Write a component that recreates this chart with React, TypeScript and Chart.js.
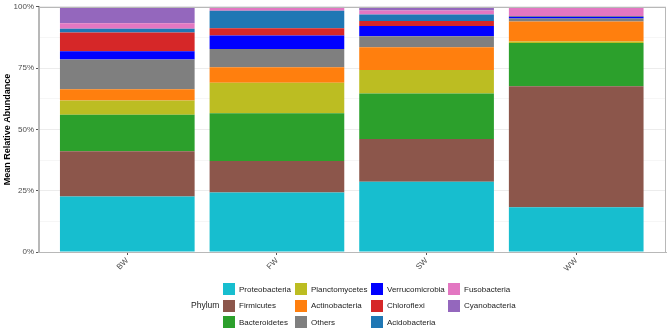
import React, { useEffect, useRef } from "react";
import { Chart, registerables } from "chart.js";

Chart.register(...registerables);

const categories = ["BW", "FW", "SW", "WW"];
const phyla = [
  "Proteobacteria",
  "Firmicutes",
  "Bacteroidetes",
  "Planctomycetes",
  "Actinobacteria",
  "Others",
  "Verrucomicrobia",
  "Chloroflexi",
  "Acidobacteria",
  "Fusobacteria",
  "Cyanobacteria",
];
const colors = [
  "#17BECF",
  "#8C564B",
  "#2CA02C",
  "#BCBD22",
  "#FF7F0E",
  "#7F7F7F",
  "#0000FF",
  "#D62728",
  "#1F77B4",
  "#E377C2",
  "#9467BD",
];
const proteobacteria = [22.6, 24.3, 28.6, 18.3];
const firmicutes = [18.5, 12.8, 17.5, 49.3];
const bacteroidetes = [14.9, 19.5, 18.5, 17.6];
const planctomycetes = [5.8, 12.4, 9.6, 0.6];
const actinobacteria = [4.6, 6.3, 9.3, 8.2];
const others = [12.1, 7.5, 4.5, 1.2];
const verrucomicrobia = [3.4, 5.5, 4.2, 0.6];
const chloroflexi = [7.6, 3.0, 2.0, 0.1];
const acidobacteria = [1.5, 7.1, 2.7, 0.3];
const fusobacteria = [2.3, 1.3, 1.6, 3.3];
const cyanobacteria = [6.7, 0.3, 1.5, 0.3];
const seriesValues = [
  proteobacteria,
  firmicutes,
  bacteroidetes,
  planctomycetes,
  actinobacteria,
  others,
  verrucomicrobia,
  chloroflexi,
  acidobacteria,
  fusobacteria,
  cyanobacteria,
];
const yTicks = [0, 25, 50, 75, 100];

// legend column-major order (3 rows)
const legendColumns = [
  [0, 1, 2],
  [3, 4, 5],
  [6, 7, 8],
  [9, 10],
];
const legendColX = [223, 295, 371, 448];

const FONT = "'Liberation Sans', Arial, Helvetica, sans-serif";

export default function App() {
  const ref = useRef<HTMLCanvasElement | null>(null);

  useEffect(() => {
    const canvas = ref.current;
    if (!canvas) return;
    const borderPlugin = {
      id: "panelBorder",
      afterDraw(chart: any) {
        const { ctx, chartArea } = chart;
        ctx.save();
        ctx.strokeStyle = "#b8b8b8";
        ctx.lineWidth = 1;
        ctx.strokeRect(
          Math.round(chartArea.left) - 0.5,
          Math.round(chartArea.top) + 0.5,
          Math.round(chartArea.right - chartArea.left),
          Math.round(chartArea.bottom - chartArea.top)
        );
        ctx.restore();
      },
    };
    const chart = new Chart(canvas, {
      type: "bar",
      data: {
        datasets: phyla.map((name, i) => ({
          label: name,
          data: seriesValues[i].map((v, j) => ({ x: j, y: v })),
          backgroundColor: colors[i],
          borderWidth: 0,
          barPercentage: 0.9,
          categoryPercentage: 1,
        })),
      },
      options: {
        animation: false,
        responsive: false,
        maintainAspectRatio: false,
        layout: { padding: { top: 4, right: 3, left: 0, bottom: 0 } },
        plugins: { legend: { display: false }, tooltip: { enabled: false } },
        scales: {
          x: {
            type: "linear",
            stacked: true,
            offset: false,
            min: -0.59,
            max: 3.6,
            afterBuildTicks(scale: any) {
              scale.ticks = categories.map((_, i) => ({ value: i }));
            },
            afterFit(scale: any) {
              scale.height = 80;
            },
            ticks: {
              autoSkip: false,
              minRotation: 45,
              maxRotation: 45,
              padding: 1,
              color: "#4d4d4d",
              font: { family: FONT, size: 8 },
              callback: (v: any) => categories[Math.round(v)] ?? "",
            },
            grid: {
              offset: false,
              drawOnChartArea: false,
              drawTicks: true,
              tickLength: 3,
              tickColor: "#555",
            },
            border: { display: true, color: "#b8b8b8" },
          },
          y: {
            stacked: true,
            min: 0,
            max: 100,
            afterBuildTicks(scale: any) {
              const t: any[] = [];
              for (let v = 0; v <= 100; v += 12.5) t.push({ value: v });
              scale.ticks = t;
            },
            afterFit(scale: any) {
              scale.width = 39;
            },
            ticks: {
              padding: 2,
              color: "#4d4d4d",
              font: { family: FONT, size: 8 },
              callback: (v: any) => (yTicks.includes(v) ? v + "%" : ""),
            },
            grid: {
              color: (ctx: any) =>
                ctx.tick && yTicks.includes(ctx.tick.value) ? "#ececec" : "#f6f6f6",
              tickColor: (ctx: any) =>
                ctx.tick && yTicks.includes(ctx.tick.value) ? "#555" : "rgba(0,0,0,0)",
              tickLength: 3,
            },
            border: { display: true, color: "#b8b8b8" },
            title: {
              display: true,
              text: "Mean Relative Abundance",
              color: "#000",
              padding: { top: 2, bottom: 2 },
              font: { family: FONT, size: 9, weight: "bold" },
            },
          },
        },
      },
      plugins: [borderPlugin],
    } as any);
    return () => chart.destroy();
  }, []);

  return (
    <div
      style={{
        position: "fixed",
        left: 0,
        top: 0,
        width: 669,
        height: 332,
        background: "#fff",
        fontFamily: FONT,
      }}
    >
      <canvas ref={ref} width={669} height={332} style={{ display: "block" }} />
      <div
        style={{
          position: "absolute",
          left: 191,
          top: 299,
          fontSize: 8.5,
          lineHeight: "12px",
          color: "#222",
        }}
      >
        Phylum
      </div>
      {legendColumns.map((col, ci) =>
        col.map((idx, ri) => (
          <div
            key={idx}
            style={{
              position: "absolute",
              left: legendColX[ci],
              top: 283 + ri * 16.5,
              height: 12,
              display: "flex",
              alignItems: "center",
              whiteSpace: "nowrap",
            }}
          >
            <div style={{ width: 12, height: 12, background: colors[idx] }} />
            <span style={{ marginLeft: 4, fontSize: 8, color: "#222" }}>
              {phyla[idx]}
            </span>
          </div>
        ))
      )}
    </div>
  );
}
